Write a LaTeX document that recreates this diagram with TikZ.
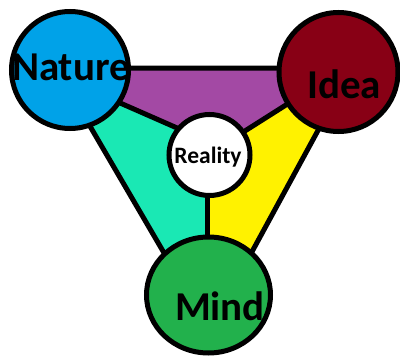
\documentclass[tikz,border=0pt]{standalone}
\usepackage{fontspec}
\setmainfont{Carlito}
\usetikzlibrary{shapes.geometric}
\definecolor{cblue}{HTML}{00A2E8}
\definecolor{cred}{HTML}{880015}
\definecolor{cgreen}{HTML}{22B14C}
\definecolor{cpurple}{HTML}{A349A4}
\definecolor{cteal}{HTML}{1AE8B4}
\definecolor{cyellow}{HTML}{FFF200}
\tikzset{
  edge/.style={line width=5pt, line cap=round, line join=round},
  bigcirc/.style={circle, draw=black, line width=5pt, minimum size=117pt, inner sep=0pt},
  biglabel/.style={anchor=base, inner sep=0pt, font=\fontsize{41}{41}\selectfont\bfseries},
}
\begin{document}
\begin{tikzpicture}[x=1pt,y=-1pt]
\useasboundingbox (0,0) rectangle (400,356);
% corner points
\coordinate (A) at (56,68);
\coordinate (B) at (352,68);
\coordinate (C) at (229,294);
\coordinate (D) at (188,294);
\coordinate (nl) at (70,81);
\coordinate (rl) at (209,142);
\coordinate (il) at (338,72);
\coordinate (rc) at (207,155);
\coordinate (mt) at (207,294);
% regions
\fill[cpurple] (A) -- (B) -- (il) -- (rc) -- (rl) -- (nl) -- cycle;
\fill[cteal] (A) -- (nl) -- (rl) -- (rc) -- (mt) -- (D) -- cycle;
\fill[cyellow] (B) -- (C) -- (mt) -- (rc) -- (il) -- cycle;
% borders
\draw[edge] (D) -- (A) -- (B) -- (C);
\draw[edge] (nl) -- (rl);
\draw[edge] (il) -- (rc);
\draw[edge] (rc) -- (mt);
% circles
\node[bigcirc, fill=cblue] (nature) at (70,70) {};
\node[bigcirc, fill=cred, minimum size=119pt] (idea) at (338.5,72) {};
\node[ellipse, draw=black, line width=5pt, fill=cgreen, minimum width=124pt, minimum height=116pt, inner sep=0pt] (mind) at (208.5,295) {};
\node[circle, draw=black, line width=5pt, fill=white, minimum size=81pt, inner sep=0pt] (reality) at (209.5,155) {};
% labels
\node[biglabel] (tnature) at (71,80) {Nature};
\node[biglabel] (tidea) at (344,98) {Idea};
\node[biglabel] (tmind) at (220,320) {Mind};
\node[anchor=base, inner sep=0pt, font=\fontsize{23.5}{23.5}\selectfont\bfseries] (treality) at (208,163) {Reality};
\end{tikzpicture}
\end{document}
